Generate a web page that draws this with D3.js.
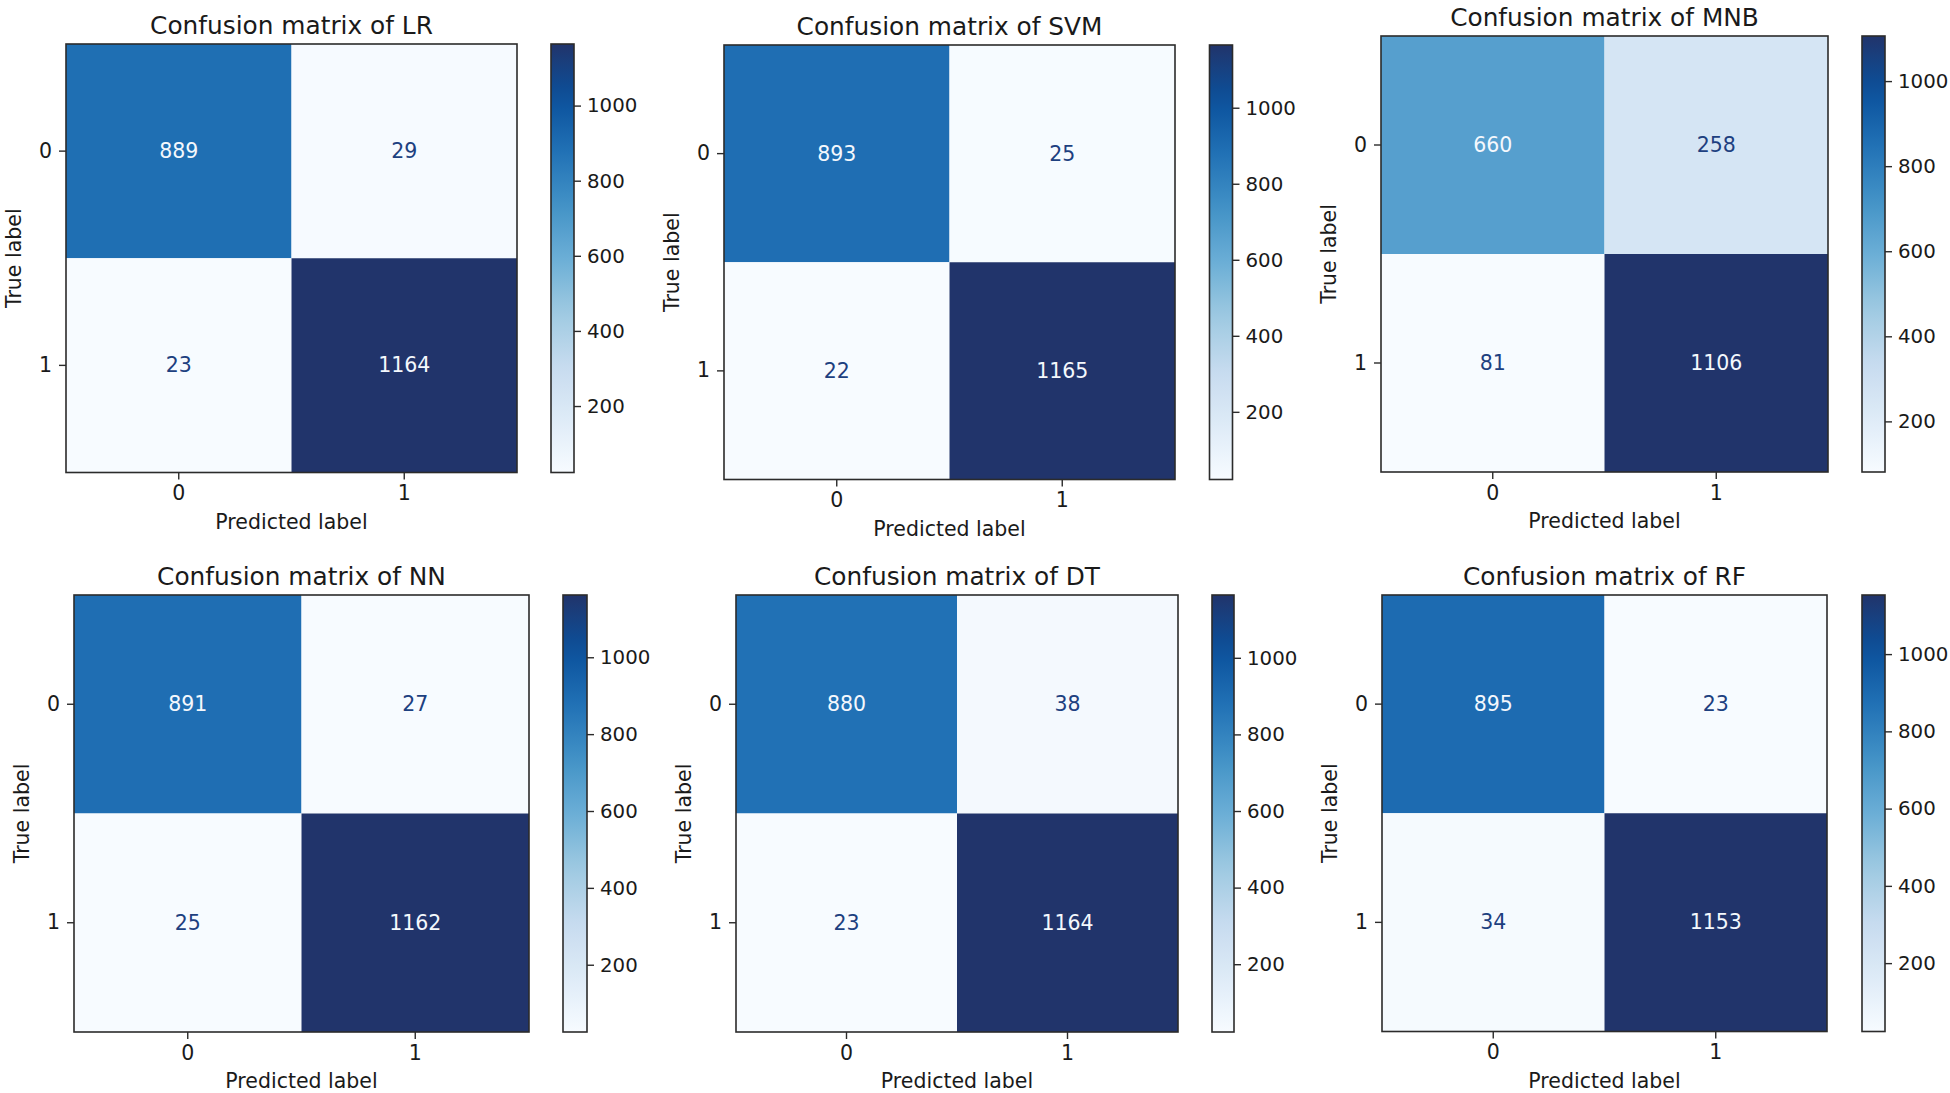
<!DOCTYPE html>
<html>
<head>
<meta charset="utf-8">
<script src="https://cdn.jsdelivr.net/npm/d3@7"></script>
<style>
  html, body { margin: 0; padding: 0; background: #ffffff; }
  svg { display: block; }
  text { font-family: "DejaVu Sans", "Liberation Sans", sans-serif; }
</style>
</head>
<body>
<svg id="chart" width="1950" height="1093"></svg>
<script>
// ---------------- data ----------------
const modelNames = ["LR", "SVM", "MNB", "NN", "DT", "RF"];
const classLabels = ["0", "1"];
// rows = true label, cols = predicted label
const matrixLR  = [[889, 29], [23, 1164]];
const matrixSVM = [[893, 25], [22, 1165]];
const matrixMNB = [[660, 258], [81, 1106]];
const matrixNN  = [[891, 27], [25, 1162]];
const matrixDT  = [[880, 38], [23, 1164]];
const matrixRF  = [[895, 23], [34, 1153]];
const colorbarTicks = [200, 400, 600, 800, 1000];
const matrices = [matrixLR, matrixSVM, matrixMNB, matrixNN, matrixDT, matrixRF];

// ---------------- layout (pixels) ----------------
const layout = [
  { x0: 66,   y0: 44,  x1: 517,  y1: 472.5, c0: 551,  c1: 574 },
  { x0: 724,  y0: 45,  x1: 1175, y1: 479.5, c0: 1209.5, c1: 1232.5 },
  { x0: 1381, y0: 36,  x1: 1828, y1: 472,   c0: 1862, c1: 1885 },
  { x0: 74,   y0: 595, x1: 529,  y1: 1032,  c0: 563,  c1: 587 },
  { x0: 736,  y0: 595, x1: 1178, y1: 1032,  c0: 1212, c1: 1234 },
  { x0: 1382, y0: 595, x1: 1827, y1: 1031.5, c0: 1862, c1: 1885 }
];

const FS = 20.5, CFS = 19.8, TFS = 24.8;
const frameColor = "#2b2b2b";
const textColor = "#1a1a1a";

// matplotlib-like "Blues" (piecewise linear), tuned to the picture's dark end
const blueStops = ["#f7fbff", "#deebf7", "#c6dbef", "#9ecae1", "#6baed6",
                   "#4292c6", "#2171b5", "#0b519c", "#21346b"];
const cmap = d3.scaleLinear()
  .domain(d3.range(blueStops.length).map(i => i / (blueStops.length - 1)))
  .range(blueStops)
  .interpolate(d3.interpolateRgb)
  .clamp(true);
const lightText = "#f4f8fd";
const darkText = "#1d4080";

const svg = d3.select("#chart");
svg.append("rect").attr("width", 1950).attr("height", 1093).attr("fill", "#fff");
const defs = svg.append("defs");

matrices.forEach((m, idx) => {
  const L = layout[idx];
  const name = modelNames[idx];
  const flat = m.flat();
  const vmin = d3.min(flat), vmax = d3.max(flat);
  const norm = d3.scaleLinear().domain([vmin, vmax]).range([0, 1]);
  const thresh = (vmin + vmax) / 2;

  const x = d3.scaleBand().domain(classLabels).range([L.x0, L.x1]);
  const y = d3.scaleBand().domain(classLabels).range([L.y0, L.y1]);

  const g = svg.append("g");

  // cells
  const cells = [];
  m.forEach((row, i) => row.forEach((v, j) => cells.push({ t: classLabels[i], p: classLabels[j], v })));
  g.selectAll("rect.cell").data(cells).enter().append("rect")
    .attr("class", "cell")
    .attr("x", d => x(d.p)).attr("y", d => y(d.t))
    .attr("width", x.bandwidth()).attr("height", y.bandwidth())
    .attr("fill", d => cmap(norm(d.v)));

  g.selectAll("text.val").data(cells).enter().append("text")
    .attr("class", "val")
    .attr("x", d => x(d.p) + x.bandwidth() / 2)
    .attr("y", d => y(d.t) + y.bandwidth() / 2)
    .attr("text-anchor", "middle")
    .attr("dominant-baseline", "central")
    .attr("font-size", FS)
    .attr("fill", d => d.v > thresh ? lightText : darkText)
    .text(d => d.v);

  // frame
  g.append("rect")
    .attr("x", L.x0).attr("y", L.y0)
    .attr("width", L.x1 - L.x0).attr("height", L.y1 - L.y0)
    .attr("fill", "none").attr("stroke", frameColor).attr("stroke-width", 1.6);

  // axes
  const xAxis = g.append("g").attr("transform", `translate(0,${L.y1})`)
    .call(d3.axisBottom(x).tickSize(7).tickPadding(6));
  const yAxis = g.append("g").attr("transform", `translate(${L.x0},0)`)
    .call(d3.axisLeft(y).tickSize(7).tickPadding(7));
  [xAxis, yAxis].forEach(a => {
    a.select(".domain").remove();
    a.selectAll(".tick line").attr("stroke", frameColor).attr("stroke-width", 1.4);
    a.selectAll(".tick text").attr("font-size", FS).attr("fill", textColor)
      .style("font-family", '"DejaVu Sans", sans-serif');
  });

  // title & axis labels
  g.append("text")
    .attr("x", (L.x0 + L.x1) / 2).attr("y", L.y0 - 19)
    .attr("text-anchor", "middle").attr("dominant-baseline", "central")
    .attr("font-size", TFS).attr("fill", textColor)
    .text(`Confusion matrix of ${name}`);
  g.append("text")
    .attr("x", (L.x0 + L.x1) / 2).attr("y", L.y1 + 49)
    .attr("text-anchor", "middle").attr("dominant-baseline", "central")
    .attr("font-size", FS).attr("fill", textColor)
    .text("Predicted label");
  g.append("text")
    .attr("transform", `translate(${L.x0 - 52},${(L.y0 + L.y1) / 2}) rotate(-90)`)
    .attr("text-anchor", "middle").attr("dominant-baseline", "central")
    .attr("font-size", FS).attr("fill", textColor)
    .text("True label");

  // colorbar
  const gid = `grad${idx}`;
  const grad = defs.append("linearGradient").attr("id", gid)
    .attr("x1", 0).attr("y1", 1).attr("x2", 0).attr("y2", 0);
  d3.range(0, 1.0001, 0.05).forEach(t => {
    grad.append("stop").attr("offset", t).attr("stop-color", cmap(t));
  });
  const cy = d3.scaleLinear().domain([vmin, vmax]).range([L.y1, L.y0]);
  g.append("rect")
    .attr("x", L.c0).attr("y", cy(vmax))
    .attr("width", L.c1 - L.c0).attr("height", cy(vmin) - cy(vmax))
    .attr("fill", `url(#${gid})`)
    .attr("stroke", frameColor).attr("stroke-width", 1.6);
  const cAxis = g.append("g").attr("transform", `translate(${L.c1},0)`)
    .call(d3.axisRight(cy).tickValues(colorbarTicks.filter(t => t >= vmin && t <= vmax))
      .tickSize(7).tickPadding(6).tickFormat(d3.format("d")));
  cAxis.select(".domain").remove();
  cAxis.selectAll(".tick line").attr("stroke", frameColor).attr("stroke-width", 1.4);
  cAxis.selectAll(".tick text").attr("font-size", CFS).attr("fill", textColor)
    .style("font-family", '"DejaVu Sans", sans-serif');
});
</script>
</body>
</html>
